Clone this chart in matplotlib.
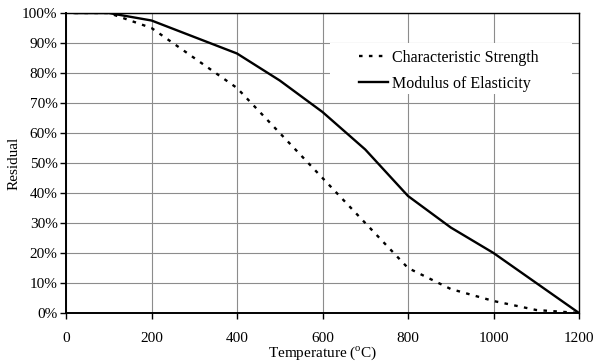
import matplotlib
matplotlib.use("Agg")
import matplotlib.pyplot as plt
from matplotlib.patches import Rectangle
from matplotlib.ticker import PercentFormatter

plt.rcParams['font.family'] = ['Liberation Serif', 'DejaVu Serif']
plt.rcParams['mathtext.fontset'] = 'custom'
plt.rcParams['mathtext.rm'] = 'Liberation Serif'

# Residual properties of concrete versus temperature
temp_strength = [20, 100, 200, 300, 400, 500, 600, 700, 800, 900, 1000, 1100, 1200]
strength = [1.00, 1.00, 0.95, 0.85, 0.75, 0.60, 0.45, 0.30, 0.15, 0.08, 0.04, 0.01, 0.00]

temp_modulus = [20, 100, 200, 300, 400, 500, 600, 700, 800, 900, 1000, 1100, 1200]
modulus = [1.00, 1.00, 0.975, 0.92, 0.865, 0.775, 0.67, 0.545, 0.39, 0.285, 0.20, 0.10, 0.00]

x_ticks = [0, 200, 400, 600, 800, 1000, 1200]
y_ticks = [i / 10 for i in range(11)]

fig = plt.figure(figsize=(5.96, 3.63), dpi=100)
ax = fig.add_axes([66 / 596, 1 - 313 / 363, (579 - 66) / 596, 300 / 363])

ax.plot(temp_strength, strength, color='black', lw=1.7,
        dashes=(1.5, 2.7), label='Characteristic Strength', zorder=3)
ax.plot(temp_modulus, modulus, color='black', lw=1.7,
        label='Modulus of Elasticity', zorder=3)

ax.set_xlim(0, 1200)
ax.set_ylim(0, 1.0)
ax.set_xticks(x_ticks)
ax.set_yticks(y_ticks)
ax.yaxis.set_major_formatter(PercentFormatter(1.0, decimals=0))

ax.grid(True, color='#8c8c8c', lw=0.8)
ax.set_axisbelow(True)
for s in ax.spines.values():
    s.set_color('black')
    s.set_linewidth(1.0)
ax.spines['left'].set_linewidth(1.4)
ax.spines['bottom'].set_linewidth(1.4)

ax.tick_params(axis='x', direction='out', length=4, width=1, pad=10, labelsize=11)
ax.tick_params(axis='y', direction='out', length=4, width=1, pad=2, labelsize=11)

ax.set_xlabel('Temperature ($^{\\mathrm{o}}$C)', fontsize=11, labelpad=-1)
ax.set_ylabel('Residual', fontsize=11, labelpad=1)

# white panel behind the legend, hiding the gridlines there
ax.add_patch(Rectangle((0.515, 0.73), 0.471, 0.17, transform=ax.transAxes,
                       facecolor='white', edgecolor='none', zorder=1))

leg = ax.legend(loc='upper left', bbox_to_anchor=(0.571, 0.878), frameon=False,
                fontsize=11.5, handlelength=1.85, handletextpad=0.25,
                borderpad=0, borderaxespad=0, labelspacing=0.62)

fig.savefig('out.png', dpi=100)
